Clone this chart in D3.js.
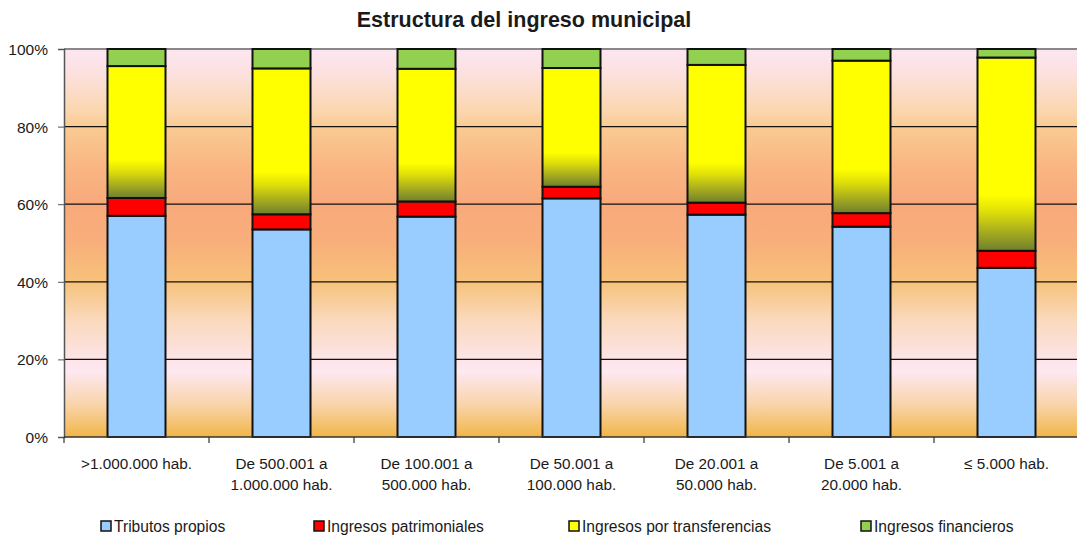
<html>
<head>
<meta charset="utf-8">
<script src="https://d3js.org/d3.v7.min.js"></script>
<style>
  body { margin: 0; background: #fff; }
  svg text { font-family: "Liberation Sans", Arial, sans-serif; fill: #1a1a1a; }
</style>
</head>
<body>
<svg id="chart" width="1077" height="539"></svg>
<script>
const categories = [
  [">1.000.000 hab."],
  ["De 500.001 a", "1.000.000 hab."],
  ["De 100.001 a", "500.000 hab."],
  ["De 50.001 a", "100.000 hab."],
  ["De 20.001 a", "50.000 hab."],
  ["De 5.001 a", "20.000 hab."],
  ["\u2264 5.000 hab."]
];
const seriesNames = ["Tributos propios", "Ingresos patrimoniales", "Ingresos por transferencias", "Ingresos financieros"];
const tributos = [57.0, 53.5, 56.8, 61.5, 57.3, 54.2, 43.6];
const patrimoniales = [4.6, 3.9, 3.9, 3.0, 3.1, 3.5, 4.4];
const transferencias = [34.0, 37.6, 34.2, 30.6, 35.5, 39.3, 49.8];
const financieros = [4.4, 5.0, 5.1, 4.9, 4.1, 3.0, 2.2];
const yTicks = [0, 20, 40, 60, 80, 100];

const colors = ["#99ccff", "#ff0000", "url(#yellowGrad)", "#92d050"];
const legendColors = ["#99ccff", "#ff0000", "#ffff00", "#92d050"];

const svg = d3.select("#chart");
const plotLeft = 64, plotRight = 1079, plotTop = 49, plotBottom = 437;

const keys = ["t", "p", "tr", "f"];
const rows = categories.map((c, i) => ({
  i: i, t: tributos[i], p: patrimoniales[i], tr: transferencias[i], f: financieros[i]
}));
const stacked = d3.stack().keys(keys)(rows);

const x = d3.scaleBand().domain(d3.range(categories.length)).range([plotLeft, plotRight])
  .paddingInner(0.6).paddingOuter(0.3);
const y = d3.scaleLinear().domain([0, 100]).range([plotBottom, plotTop]);

const defs = svg.append("defs");
const bg = defs.append("linearGradient").attr("id", "bgGrad")
  .attr("x1", 0).attr("y1", 0).attr("x2", 0).attr("y2", 1);
[[0, "#fde6f2"], [0.06, "#fce1e0"], [0.16, "#fbd6ae"], [0.2, "#f9cb93"], [0.3, "#f9b683"],
 [0.4, "#f8a97b"], [0.5, "#f8af7b"], [0.6, "#f7c27a"], [0.7, "#fad9bd"], [0.8, "#fde4e6"],
 [0.83, "#fee8f2"], [0.92, "#f9d3a6"], [1, "#f1b548"]]
  .forEach(s => bg.append("stop").attr("offset", s[0]).attr("stop-color", s[1]));

const yg = defs.append("linearGradient").attr("id", "yellowGrad")
  .attr("x1", 0).attr("y1", 0).attr("x2", 0).attr("y2", 1);
[[0, "#ffff00"], [0.71, "#ffff00"], [0.8, "#dede0a"], [0.9, "#a8ad1e"], [1, "#6f7f2e"]]
  .forEach(s => yg.append("stop").attr("offset", s[0]).attr("stop-color", s[1]));

// plot background
svg.append("rect").attr("x", plotLeft).attr("y", plotTop)
  .attr("width", plotRight - plotLeft).attr("height", plotBottom - plotTop)
  .attr("fill", "url(#bgGrad)");

// gridlines
svg.append("g").selectAll("line").data(yTicks.filter(d => d > 0 && d < 100)).join("line")
  .attr("x1", plotLeft).attr("x2", plotRight)
  .attr("y1", d => y(d)).attr("y2", d => y(d))
  .attr("stroke", "#111").attr("stroke-width", 1.2);

svg.append("line").attr("x1", plotLeft).attr("x2", plotRight).attr("y1", plotTop).attr("y2", plotTop)
  .attr("stroke", "#888").attr("stroke-width", 2);

// bars
svg.append("g").selectAll("g").data(stacked).join("g")
  .attr("fill", (d, i) => colors[i])
  .selectAll("rect").data(d => d).join("rect")
  .attr("x", d => x(d.data.i))
  .attr("width", x.bandwidth())
  .attr("y", d => y(d[1]))
  .attr("height", d => y(d[0]) - y(d[1]))
  .attr("stroke", "#111").attr("stroke-width", 2);

// y axis
const yAxis = d3.axisLeft(y).tickValues(yTicks).tickFormat(d => d + "%").tickSize(6).tickPadding(10);
const ya = svg.append("g").attr("transform", `translate(${plotLeft},0)`).call(yAxis);
ya.select(".domain").attr("stroke", "#555").attr("stroke-width", 1.5);
ya.selectAll(".tick line").attr("stroke", "#555");
ya.selectAll("text").attr("font-size", 15.5).attr("font-family", "Liberation Sans, Arial, sans-serif")
  .attr("fill", "#1a1a1a").attr("dy", "0.35em");

// x axis
svg.append("line").attr("x1", plotLeft).attr("x2", plotRight).attr("y1", plotBottom).attr("y2", plotBottom)
  .attr("stroke", "#333").attr("stroke-width", 1.5);
const step = x.step();
svg.append("g").selectAll("line").data(d3.range(categories.length + 1)).join("line")
  .attr("x1", i => plotLeft + i * step).attr("x2", i => plotLeft + i * step)
  .attr("y1", plotBottom).attr("y2", plotBottom + 6)
  .attr("stroke", "#333").attr("stroke-width", 1.2);

const xl = svg.append("g").selectAll("text").data(categories).join("text")
  .attr("x", (d, i) => x(i) + x.bandwidth() / 2)
  .attr("y", 469)
  .attr("text-anchor", "middle")
  .attr("font-size", 15.3);
xl.selectAll("tspan").data(d => d).join("tspan")
  .attr("x", function() { return this.parentNode.getAttribute("x"); })
  .attr("dy", (d, i) => i === 0 ? 0 : 21)
  .text(d => d);

// title
svg.append("text").attr("x", 524).attr("y", 27).attr("text-anchor", "middle")
  .attr("font-size", 21.5).attr("font-weight", "bold").attr("fill", "#000")
  .text("Estructura del ingreso municipal");

// legend
const legendX = [101, 314, 569, 861];
const lg = svg.append("g").selectAll("g").data(seriesNames).join("g")
  .attr("transform", (d, i) => `translate(${legendX[i]},526)`);
lg.append("rect").attr("x", 0).attr("y", -5).attr("width", 10).attr("height", 10)
  .attr("fill", (d, i) => legendColors[i]).attr("stroke", "#111").attr("stroke-width", 1.5);
lg.append("text").attr("x", 13).attr("y", 5.5).attr("font-size", 15.6).text(d => d);
</script>
</body>
</html>
